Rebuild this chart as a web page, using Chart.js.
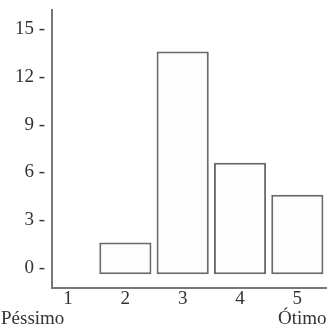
<!DOCTYPE html>
<html>
<head>
<meta charset="utf-8">
<script src="https://cdn.jsdelivr.net/npm/chart.js@4"></script>
<style>
  html, body { margin: 0; padding: 0; background: #fff; }
  #wrap { width: 332px; height: 336px; }
</style>
</head>
<body>
<div id="wrap"><canvas id="chart" width="332" height="336"></canvas></div>
<script>
// rating 1..5 and how many answers each got
const ratings = [1, 2, 3, 4, 5];
const counts = [0, 2, 14, 7, 5];
const yTicks = [0, 3, 6, 9, 12, 15];
const endWords = ['Péssimo', '', '', '', 'Ótimo'];

// bars in the original start a little under the zero tick
const barBase = -0.4;

const FONT = '"Liberation Serif", "Times New Roman", serif';
const INK = '#333';
const SIZE = 19;

const wordsPlugin = {
    id: 'endWords',
    afterDraw(chart) {
        const ctx = chart.ctx;
        const xs = chart.scales.x;
        ctx.save();
        ctx.font = SIZE + 'px ' + FONT;
        ctx.fillStyle = INK;
        ctx.textBaseline = 'middle';
        endWords.forEach((w, i) => {
            if (!w) return;
            const px = xs.getPixelForValue(ratings[i]);
            if (i === 0) {
                ctx.textAlign = 'left';
                ctx.fillText(w, 1, 319);
            } else {
                ctx.textAlign = 'center';
                ctx.fillText(w, px + 5, 319);
            }
        });
        ctx.restore();
    }
};

new Chart(document.getElementById('chart'), {
    type: 'bar',
    data: {
        datasets: [{
            data: ratings.map((r, i) => ({ x: r, y: counts[i] ? counts[i] + barBase : null })),
            base: barBase,
            backgroundColor: '#fdfdfd',
            borderColor: '#6a6a6a',
            borderWidth: 2,
            borderSkipped: false,
            barPercentage: 0.91,
            categoryPercentage: 1
        }]
    },
    options: {
        responsive: false,
        animation: false,
        layout: { padding: { top: 10, right: 6, left: 0, bottom: 0 } },
        plugins: { legend: { display: false }, tooltip: { enabled: false } },
        scales: {
            x: {
                type: 'linear',
                min: 0.72,
                max: 5.5,
                offset: false,
                grid: { display: false, drawTicks: false },
                border: { display: true, color: '#777', width: 2 },
                afterBuildTicks: s => { s.ticks = ratings.map(v => ({ value: v })); },
                afterFit: s => { s.height = 48; s.paddingLeft = 0; s.paddingRight = 0; },
                ticks: {
                    padding: 0,
                    maxRotation: 0,
                    autoSkip: false,
                    color: INK,
                    font: { family: FONT, size: SIZE },
                    callback: v => String(v)
                }
            },
            y: {
                min: -1.26,
                max: 16.2,
                grid: { display: false, drawTicks: false },
                border: { display: true, color: '#777', width: 2 },
                afterBuildTicks: s => { s.ticks = yTicks.map(v => ({ value: v })); },
                afterFit: s => { s.width = 52; s.paddingTop = 0; s.paddingBottom = 0; },
                ticks: {
                    padding: 7,
                    color: INK,
                    font: { family: FONT, size: SIZE },
                    callback: v => v + ' -'
                }
            }
        }
    },
    plugins: [wordsPlugin]
});
</script>
</body>
</html>
